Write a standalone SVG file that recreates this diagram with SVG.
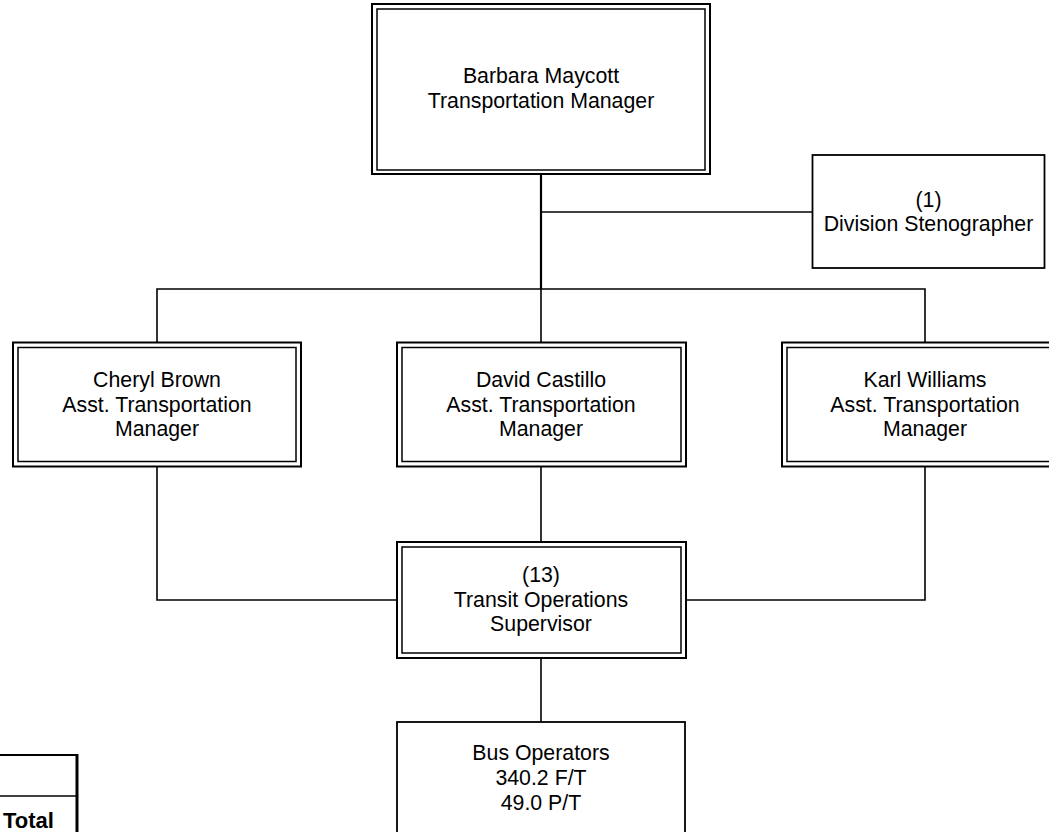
<svg xmlns="http://www.w3.org/2000/svg" width="1049" height="832" viewBox="0 0 1049 832">
<style>
text{font-family:"Liberation Sans",Arial,sans-serif;font-size:21.3px;fill:#000;text-anchor:middle}
.o{fill:#fff;stroke:#000;stroke-width:2}
.i{fill:none;stroke:#000;stroke-width:1.5}
.s{fill:#fff;stroke:#000;stroke-width:1.8}
.c{fill:none;stroke:#000;stroke-width:1.6}
.t{font-weight:bold;font-size:22px;text-anchor:start}
</style>
<rect width="1049" height="832" fill="#fff"/>
<g id="connectors">
<path class="c" d="M541 174V289" style="stroke-width:2.2"/>
<path class="c" d="M541 212H812"/>
<path class="c" d="M157 343V289H925V343M541 289V343"/>
<path class="c" d="M157 466V600H397M686 600H925V466M541 467V542M541 658V722"/>
</g>
<g id="manager">
<rect class="o" x="372" y="4" width="338" height="170"/>
<rect class="i" x="377" y="9" width="328" height="161"/>
<text x="541" y="83">Barbara Maycott</text>
<text x="541" y="108">Transportation Manager</text>
</g>
<g id="stenographer">
<rect class="s" x="812.5" y="155" width="232" height="113"/>
<text x="928.5" y="207">(1)</text>
<text x="928.5" y="231">Division Stenographer</text>
</g>
<g id="cheryl">
<rect class="o" x="13" y="342.5" width="288" height="124"/>
<rect class="i" x="18" y="347.5" width="278" height="114"/>
<text x="157" y="387">Cheryl Brown</text>
<text x="157" y="411.5">Asst. Transportation</text>
<text x="157" y="436">Manager</text>
</g>
<g id="david">
<rect class="o" x="397" y="342.5" width="289" height="124"/>
<rect class="i" x="402" y="347.5" width="279" height="114"/>
<text x="541" y="387">David Castillo</text>
<text x="541" y="411.5">Asst. Transportation</text>
<text x="541" y="436">Manager</text>
</g>
<g id="karl">
<rect class="o" x="782" y="342.5" width="288" height="124"/>
<rect class="i" x="787" y="347.5" width="278" height="114"/>
<text x="925" y="387">Karl Williams</text>
<text x="925" y="411.5">Asst. Transportation</text>
<text x="925" y="436">Manager</text>
</g>
<g id="supervisor">
<rect class="o" x="397" y="542" width="289" height="116"/>
<rect class="i" x="402" y="547" width="279" height="106"/>
<text x="541" y="582">(13)</text>
<text x="541" y="606.5">Transit Operations</text>
<text x="541" y="631">Supervisor</text>
</g>
<g id="bus">
<rect class="s" x="397" y="722" width="288" height="120"/>
<text x="541" y="760">Bus Operators</text>
<text x="541" y="785">340.2 F/T</text>
<text x="541" y="810">49.0 P/T</text>
</g>
<g id="table">
<path d="M-2 755H77.5" stroke="#000" stroke-width="2" fill="none"/>
<path d="M-2 796H77" stroke="#000" stroke-width="1.5" fill="none"/>
<path d="M77 754V834" stroke="#000" stroke-width="3" fill="none"/>
<text class="t" x="3" y="828">Total</text>
</g>
</svg>
